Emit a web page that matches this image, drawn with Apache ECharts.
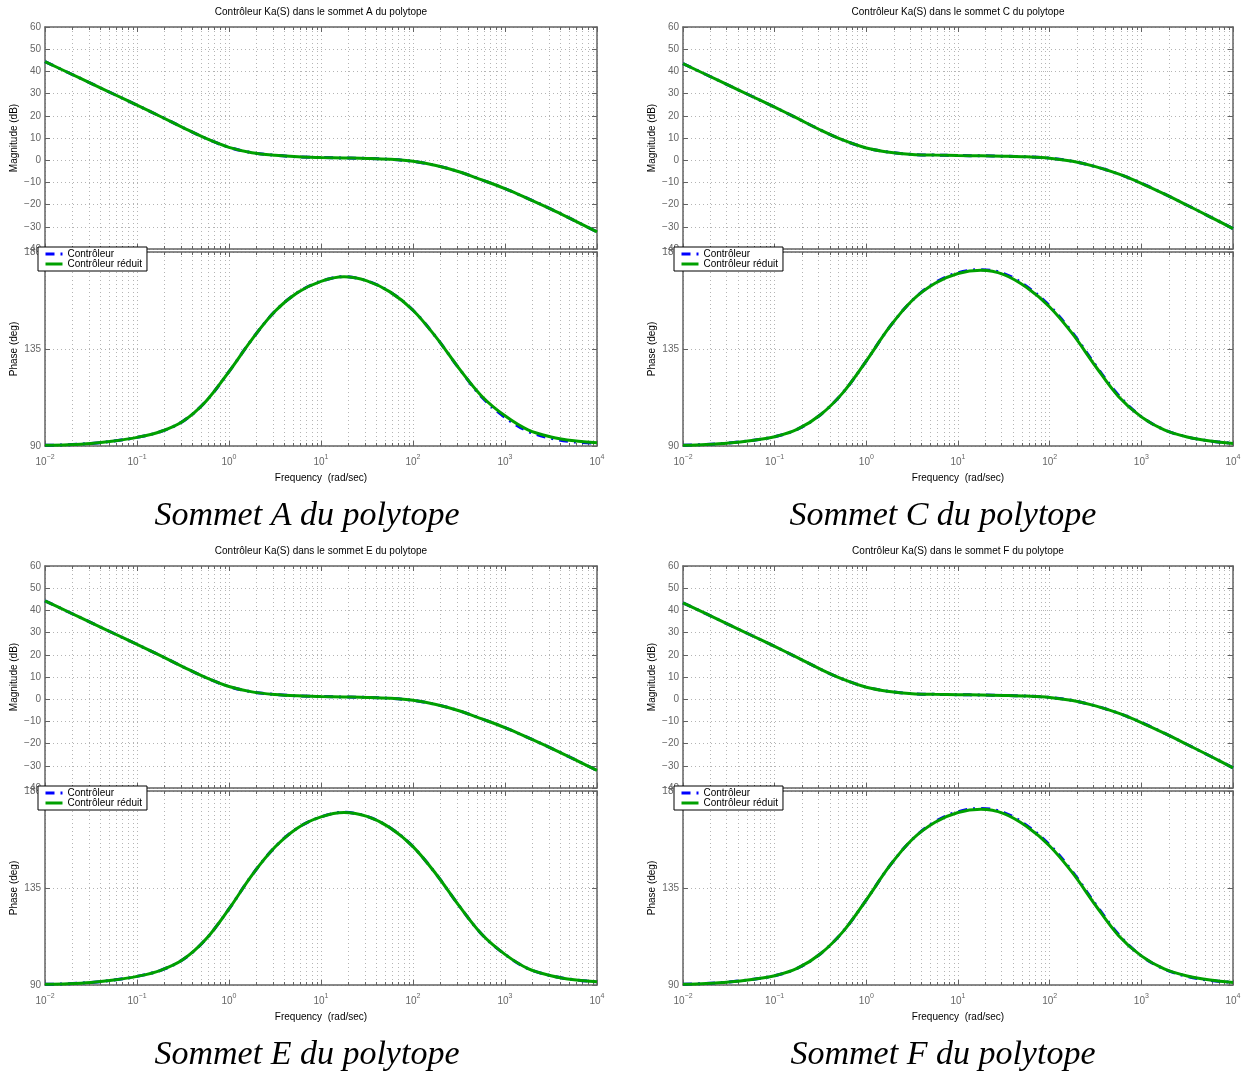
<!DOCTYPE html>
<html>
<head>
<meta charset="utf-8">
<script src="https://cdn.jsdelivr.net/npm/echarts@6/dist/echarts.min.js"></script>
<style>
html,body{margin:0;padding:0;background:#fff;}
#chart{width:1245px;height:1072px;}
</style>
</head>
<body>
<div id="chart"></div>
<script>
// ---------------- DATA ----------------
// x positions: log10 of frequency (rad/sec)
const freqExp = [-2, -1.75, -1.5, -1.25, -1, -0.75, -0.5, -0.25, 0, 0.25, 0.5, 0.75, 1,
                 1.25, 1.5, 1.75, 2, 2.25, 2.5, 2.75, 3, 3.25, 3.5, 3.75, 4];
const decadeTicks = [-2, -1, 0, 1, 2, 3, 4];
const magTicks = [-40, -30, -20, -10, 0, 10, 20, 30, 40, 50, 60];
const phaseTicks = [90, 135, 180];

// Sommet A
const magA_red   = [44.4, 39.5, 34.6, 29.7, 24.8, 19.8, 14.7, 9.8, 5.8, 3.4, 2.2, 1.5, 1.2,
                    1.0, 0.8, 0.4, -0.5, -2.4, -5.2, -8.9, -12.8, -17.3, -22.0, -27.1, -32.3];
const magA_full  = [44.4, 39.5, 34.6, 29.7, 24.8, 19.8, 14.7, 9.8, 5.8, 3.4, 2.2, 1.5, 1.2,
                    1.0, 0.8, 0.4, -0.5, -2.4, -5.2, -8.9, -12.8, -17.3, -22.0, -27.1, -32.3];
const phA_red    = [90.3, 90.6, 91.2, 92.3, 94.0, 96.6, 101.5, 110.8, 124.5, 139.5, 152.5, 161.3, 166.4,
                    168.5, 166.6, 161.5, 153.0, 140.5, 126.0, 113.0, 104.0, 97.5, 94.2, 92.4, 91.5];
const phA_full   = [90.3, 90.6, 91.2, 92.3, 94.0, 96.6, 101.5, 110.8, 124.5, 139.5, 152.5, 161.3, 166.4,
                    168.6, 166.6, 161.5, 153.0, 140.5, 126.0, 112.6, 103.3, 96.8, 93.6, 91.9, 91.3];
// Sommet C
const magC_red   = [43.5, 38.6, 33.7, 28.8, 23.9, 18.8, 13.6, 9.0, 5.5, 3.6, 2.6, 2.3, 2.1,
                    2.0, 1.8, 1.5, 0.9, -0.5, -2.9, -6.2, -10.4, -15.2, -20.3, -25.5, -30.8];
const magC_full  = [43.5, 38.6, 33.7, 28.8, 23.9, 18.8, 13.6, 9.0, 5.5, 3.6, 2.6, 2.3, 2.1,
                    2.0, 1.8, 1.5, 0.9, -0.5, -2.9, -6.2, -10.4, -15.2, -20.3, -25.5, -30.8];
const phC_red    = [90.3, 90.7, 91.4, 92.6, 94.3, 97.8, 104.5, 115.0, 129.5, 145.0, 157.5, 165.5, 170.0,
                    171.5, 169.5, 163.5, 154.5, 142.0, 127.0, 113.0, 103.5, 97.5, 94.2, 92.3, 91.2];
const phC_full   = [90.3, 90.7, 91.4, 92.6, 94.3, 97.8, 104.5, 115.0, 129.5, 145.0, 157.5, 165.8, 170.4,
                    171.8, 170.0, 164.0, 155.0, 142.5, 127.5, 113.6, 103.6, 97.5, 94.2, 92.3, 91.2];
// Sommet E
const magE_red   = [44.3, 39.4, 34.5, 29.6, 24.7, 19.7, 14.6, 9.7, 5.7, 3.3, 2.1, 1.5, 1.2,
                    1.0, 0.8, 0.4, -0.5, -2.4, -5.2, -8.9, -12.8, -17.3, -22.0, -27.0, -32.1];
const magE_full  = [44.3, 39.4, 34.5, 29.6, 24.7, 19.7, 14.6, 9.7, 5.7, 3.3, 2.1, 1.5, 1.2,
                    1.0, 0.8, 0.4, -0.5, -2.4, -5.2, -8.9, -12.8, -17.3, -22.0, -27.0, -32.1];
const phE_red    = [90.3, 90.6, 91.2, 92.3, 94.0, 96.7, 101.8, 111.3, 125.3, 141.0, 154.0, 163.0, 168.0,
                    170.0, 168.2, 163.0, 154.2, 141.5, 126.8, 113.4, 104.2, 97.6, 94.3, 92.4, 91.5];
const phE_full   = [90.3, 90.6, 91.2, 92.3, 94.0, 96.7, 101.8, 111.3, 125.3, 141.0, 154.0, 163.0, 168.0,
                    170.1, 168.2, 163.0, 154.2, 141.5, 126.8, 113.4, 104.2, 97.6, 94.3, 92.4, 91.5];
// Sommet F
const magF_red   = [43.4, 38.5, 33.6, 28.7, 23.8, 18.7, 13.5, 8.9, 5.4, 3.5, 2.5, 2.2, 2.0,
                    1.9, 1.7, 1.4, 0.8, -0.6, -3.0, -6.3, -10.5, -15.3, -20.4, -25.6, -30.9];
const magF_full  = [43.4, 38.5, 33.6, 28.7, 23.8, 18.7, 13.5, 8.9, 5.4, 3.5, 2.5, 2.2, 2.0,
                    1.9, 1.7, 1.4, 0.8, -0.6, -3.0, -6.3, -10.5, -15.3, -20.4, -25.6, -30.9];
const phF_red    = [90.3, 90.7, 91.4, 92.6, 94.3, 97.8, 104.5, 115.0, 129.5, 145.0, 157.5, 165.5, 170.0,
                    171.5, 169.5, 163.5, 154.5, 142.0, 127.0, 113.0, 103.5, 97.5, 94.2, 92.3, 91.2];
const phF_full   = [90.3, 90.7, 91.4, 92.6, 94.3, 97.8, 104.5, 115.0, 129.5, 145.0, 157.5, 165.8, 170.4,
                    171.9, 170.0, 164.0, 155.0, 142.5, 127.5, 113.5, 103.5, 97.4, 94.0, 92.1, 91.2];

const titles = ['Contrôleur Ka(S) dans le sommet A du polytope', 'Contrôleur Ka(S) dans le sommet C du polytope',
                'Contrôleur Ka(S) dans le sommet E du polytope', 'Contrôleur Ka(S) dans le sommet F du polytope'];
const captions = ['Sommet A du polytope', 'Sommet C du polytope', 'Sommet E du polytope', 'Sommet F du polytope'];
const seriesNames = ['Contrôleur', 'Contrôleur réduit'];
const magFull = [magA_full, magC_full, magE_full, magF_full];
const magRed  = [magA_red, magC_red, magE_red, magF_red];
const phFull  = [phA_full, phC_full, phE_full, phF_full];
const phRed   = [phA_red, phC_red, phE_red, phF_red];

// ---------------- LAYOUT ----------------
const panelPos = [
  {left: 45,  width: 552, dy: 0,   legendLeft: 38},
  {left: 683, width: 550, dy: 0,   legendLeft: 674},
  {left: 45,  width: 552, dy: 539, legendLeft: 38},
  {left: 683, width: 550, dy: 539, legendLeft: 674}
];
const captionX = [307, 943, 307, 943];
const MAG_TOP = 27, MAG_H = 222, PH_TOP = 252, PH_H = 194;

const FONT = '"Liberation Sans", Arial, Helvetica, sans-serif';
const axisCol = '#636363';
const labelCol = '#666666';
const gridCol = '#b4b4b4';
const blue = '#0000ff';
const green = '#00a000';

const minorTicks = [];
for (let d = -2; d < 4; d++) for (let k = 2; k <= 9; k++) minorTicks.push(d + Math.log10(k));

function supLabel(v) {
  const e = Math.round(v);
  return '{b|10}{s|' + String(e).replace('-', '\u2212') + '}';
}

const grid = [], xAxis = [], yAxis = [], series = [], legend = [], graphic = [];

panelPos.forEach((p, pi) => {
  [0, 1].forEach(k => {
    const isPhase = k === 1;
    const gi = grid.length;
    grid.push({left: p.left, width: p.width, top: (isPhase ? PH_TOP : MAG_TOP) + p.dy,
               height: isPhase ? PH_H : MAG_H, containLabel: false});
    const xBase = xAxis.length;
    xAxis.push({
      gridIndex: gi, type: 'value', min: -2, max: 4, position: 'bottom',
      axisLine: {show: true, onZero: false, lineStyle: {color: axisCol, width: 1.5}},
      axisTick: {show: true, inside: true, length: 5, customValues: decadeTicks, lineStyle: {color: axisCol, width: 1}},
      axisLabel: {show: isPhase, customValues: decadeTicks, margin: 8, formatter: supLabel,
        rich: {b: {fontSize: 10, fontFamily: FONT, color: labelCol, lineHeight: 13, verticalAlign: 'bottom'},
               s: {fontSize: 7, fontFamily: FONT, color: labelCol, lineHeight: 8, verticalAlign: 'top'}}},
      splitLine: {show: false},
      name: isPhase ? 'Frequency  (rad/sec)' : '', nameLocation: 'middle', nameGap: 27,
      nameTextStyle: {fontSize: 10, fontFamily: FONT, color: '#000'}
    });
    xAxis.push({
      gridIndex: gi, type: 'value', min: -2, max: 4, position: 'bottom',
      axisLine: {show: false, onZero: false},
      axisTick: {show: true, inside: true, length: 3, customValues: minorTicks.concat(decadeTicks), lineStyle: {color: axisCol, width: 1}},
      axisLabel: {show: false},
      splitLine: {show: true, lineStyle: {color: gridCol, width: 1, type: [1, 3]}}
    });
    xAxis.push({
      gridIndex: gi, type: 'value', min: -2, max: 4, position: 'top',
      axisLine: {show: true, onZero: false, lineStyle: {color: axisCol, width: 1.5}},
      axisTick: {show: true, inside: true, length: 5, customValues: decadeTicks, lineStyle: {color: axisCol, width: 1}},
      axisLabel: {show: false}, splitLine: {show: false}
    });
    xAxis.push({
      gridIndex: gi, type: 'value', min: -2, max: 4, position: 'top',
      axisLine: {show: false, onZero: false},
      axisTick: {show: true, inside: true, length: 3, customValues: minorTicks, lineStyle: {color: axisCol, width: 1}},
      axisLabel: {show: false}, splitLine: {show: false}
    });
    const yBase = yAxis.length;
    const yCommon = isPhase ? {min: 90, max: 180, interval: 45} : {min: -40, max: 60, interval: 10};
    yAxis.push(Object.assign({
      gridIndex: gi, type: 'value', position: 'left',
      axisLine: {show: true, onZero: false, lineStyle: {color: axisCol, width: 1.5}},
      axisTick: {show: true, inside: true, length: 5, lineStyle: {color: axisCol, width: 1}},
      axisLabel: {show: true, margin: 4, fontSize: 10, fontFamily: FONT, color: labelCol,
                  formatter: v => String(v).replace('-', '\u2212')},
      splitLine: {show: true, lineStyle: {color: gridCol, width: 1, type: [1, 3]}},
      name: isPhase ? 'Phase (deg)' : 'Magnitude (dB)', nameLocation: 'middle', nameGap: 26,
      nameTextStyle: {fontSize: 10, fontFamily: FONT, color: '#000'}
    }, yCommon));
    yAxis.push(Object.assign({
      gridIndex: gi, type: 'value', position: 'right',
      axisLine: {show: true, onZero: false, lineStyle: {color: axisCol, width: 1.5}},
      axisTick: {show: true, inside: true, length: 5, lineStyle: {color: axisCol, width: 1}},
      axisLabel: {show: false}, splitLine: {show: false}
    }, yCommon));

    const full = isPhase ? phFull[pi] : magFull[pi];
    const red = isPhase ? phRed[pi] : magRed[pi];
    series.push({
      type: 'line', name: seriesNames[0], xAxisIndex: xBase, yAxisIndex: yBase,
      data: freqExp.map((x, i) => [x, full[i]]), smooth: 0.35, symbol: 'none', showSymbol: false,
      lineStyle: {color: blue, width: 3, type: [9, 6, 2, 6]}, itemStyle: {color: blue},
      z: 3, silent: true, animation: false, clip: true
    });
    series.push({
      type: 'line', name: seriesNames[1], xAxisIndex: xBase, yAxisIndex: yBase,
      data: freqExp.map((x, i) => [x, red[i]]), smooth: 0.35, symbol: 'none', showSymbol: false,
      lineStyle: {color: green, width: 3, type: 'solid'}, itemStyle: {color: green},
      z: 4, silent: true, animation: false, clip: true
    });
  });

  legend.push({
    id: 'legend' + pi, left: p.legendLeft, top: 247 + p.dy, orient: 'vertical',
    data: seriesNames, selectedMode: false, backgroundColor: '#fff', borderColor: '#000',
    borderWidth: 1, borderRadius: 0, padding: [2, 5, 2, 6], itemGap: 0, itemWidth: 17, itemHeight: 10,
    itemStyle: {opacity: 0, borderWidth: 0},
    lineStyle: {width: 3},
    textStyle: {fontSize: 10, fontFamily: FONT, color: '#000', lineHeight: 10}, z: 10
  });

  graphic.push({
    type: 'text', x: p.left + p.width / 2, y: 12 + p.dy, z: 20,
    style: {text: titles[pi], font: '10px ' + FONT, fill: '#000', align: 'center', verticalAlign: 'middle'}
  });
  graphic.push({
    type: 'text', x: captionX[pi], y: 516 + p.dy, z: 20,
    style: {text: captions[pi], font: 'italic 34px "Liberation Serif", "Times New Roman", serif', fill: '#000',
            align: 'center', verticalAlign: 'middle'}
  });
});

const chart = echarts.init(document.getElementById('chart'), null, {renderer: 'canvas'});
chart.setOption({
  animation: false,
  backgroundColor: '#fff',
  grid, xAxis, yAxis, series, legend, graphic
});
</script>
</body>
</html>
